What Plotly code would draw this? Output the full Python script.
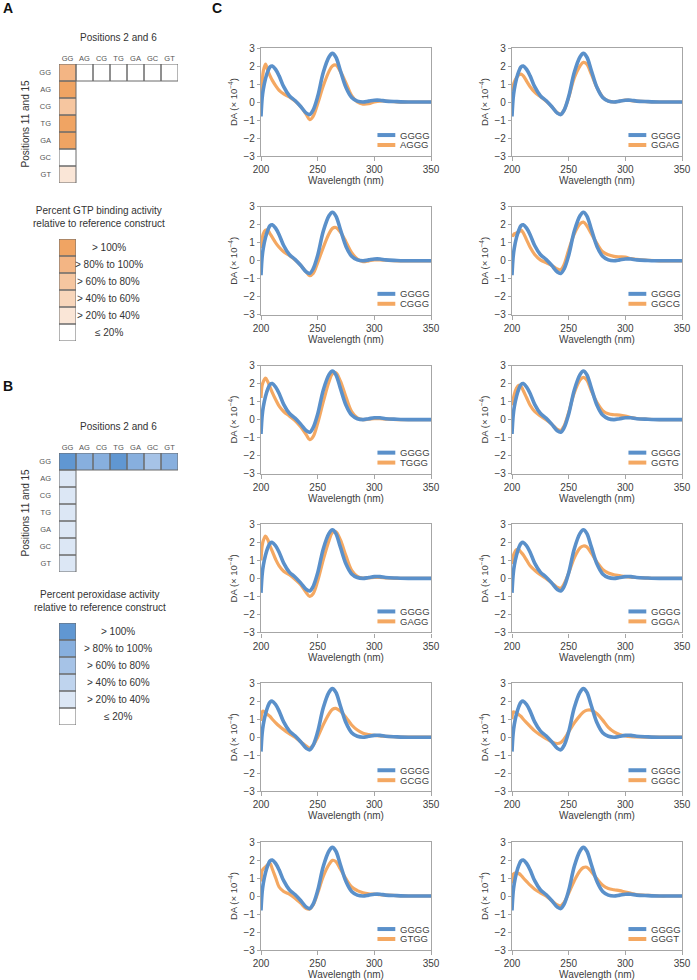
import plotly.graph_objects as go

W, H = 697, 980
def fx(p): return p / W
def fy(p): return 1 - p / H

FONT = "Arial, Liberation Sans, sans-serif"

# ---------------- Data ----------------
codes = ["GG", "AG", "CG", "TG", "GA", "GC", "GT"]
# activity category levels: 0 (<=20%) ... 5 (>100%)
gtp_row_gg = [4, 0, 0, 0, 0, 0, 0]      # positions 11/15 = GG, varying positions 2/6
gtp_col_gg = [4, 5, 3, 5, 5, 0, 1]      # positions 2/6 = GG, varying positions 11/15
pox_row_gg = [5, 4, 4, 5, 4, 3, 4]
pox_col_gg = [5, 1, 1, 1, 1, 1, 1]
legend_labels = ["> 100%", "> 80% to 100%", "> 60% to 80%", "> 40% to 60%", "> 20% to 40%", "≤ 20%"]
legend_levels = [5, 4, 3, 2, 1, 0]
orange_levels = ["#FFFFFF", "#FAE6D7", "#F8D6BB", "#F6C6A0", "#F3B584", "#F0A463"]
blue_levels = ["#FFFFFF", "#DCE7F5", "#BFD4EE", "#A6C3E7", "#87AFDE", "#6097D2"]

wl = [200, 201, 202, 204, 206, 208, 210, 213, 216, 220, 225, 230, 235, 240, 243, 246, 250,
      255, 260, 263, 266, 270, 275, 280, 285, 290, 295, 300, 305, 310, 320, 330, 340, 350]

GGGG = [-0.8, 0.2, 0.7, 1.3, 1.7, 1.95, 2.0, 1.8, 1.45, 0.85, 0.35, 0.08, -0.25, -0.62, -0.7, -0.45, 0.3,
        1.65, 2.5, 2.7, 2.5, 1.75, 0.8, 0.25, 0.05, 0.0, 0.05, 0.1, 0.1, 0.05, 0.02, 0.0, 0.0, 0.0]
AGGG = [0.4, 1.0, 1.7, 2.1, 1.75, 1.45, 1.2, 0.9, 0.65, 0.45, 0.28, 0.05, -0.25, -0.7, -0.98, -0.8, -0.1,
        0.9, 1.7, 2.0, 2.05, 1.7, 1.05, 0.35, 0.0, -0.12, -0.1, 0.0, 0.05, 0.05, 0.0, 0.0, 0.0, 0.0]
GGAG = [0.6, 0.9, 1.1, 1.35, 1.5, 1.55, 1.45, 1.15, 0.85, 0.55, 0.3, 0.05, -0.25, -0.6, -0.68, -0.45, 0.25,
        1.35, 2.0, 2.2, 2.1, 1.55, 0.8, 0.28, 0.05, 0.0, 0.05, 0.1, 0.08, 0.05, 0.02, 0.0, 0.0, 0.0]
CGGG = [0.7, 1.2, 1.5, 1.7, 1.7, 1.5, 1.3, 1.0, 0.75, 0.5, 0.3, 0.05, -0.25, -0.62, -0.82, -0.7, -0.1,
        0.75, 1.5, 1.8, 1.85, 1.6, 1.05, 0.45, 0.1, -0.05, 0.0, 0.05, 0.05, 0.03, 0.0, 0.0, 0.0, 0.0]
GGCG = [1.5, 1.4, 1.5, 1.55, 1.6, 1.7, 1.55, 1.15, 0.75, 0.35, 0.05, -0.1, -0.25, -0.45, -0.5, -0.2, 0.6,
        1.5, 2.05, 2.15, 1.95, 1.5, 0.95, 0.5, 0.33, 0.25, 0.22, 0.2, 0.12, 0.08, 0.03, 0.0, 0.0, 0.0]
TGGG = [1.2, 1.9, 2.1, 2.3, 2.1, 1.8, 1.5, 1.1, 0.75, 0.45, 0.2, -0.05, -0.4, -0.85, -1.12, -0.95, -0.2,
        1.0, 2.1, 2.55, 2.6, 2.15, 1.25, 0.45, 0.1, 0.0, 0.02, 0.05, 0.05, 0.03, 0.0, 0.0, 0.0, 0.0]
GGTG = [0.8, 1.1, 1.4, 1.75, 1.9, 1.85, 1.6, 1.2, 0.8, 0.45, 0.2, 0.0, -0.25, -0.55, -0.6, -0.35, 0.4,
        1.5, 2.2, 2.35, 2.2, 1.6, 0.95, 0.5, 0.32, 0.27, 0.25, 0.2, 0.12, 0.06, 0.02, 0.0, 0.0, 0.0]
GAGG = [1.0, 1.8, 2.1, 2.35, 2.15, 1.8, 1.5, 1.05, 0.7, 0.4, 0.2, -0.05, -0.35, -0.8, -1.0, -0.85, -0.15,
        1.05, 2.1, 2.55, 2.6, 2.15, 1.25, 0.45, 0.12, 0.02, 0.03, 0.05, 0.05, 0.03, 0.0, 0.0, 0.0, 0.0]
GGGA = [0.8, 1.2, 1.4, 1.6, 1.6, 1.45, 1.3, 1.0, 0.7, 0.45, 0.2, 0.0, -0.25, -0.5, -0.55, -0.3, 0.3,
        1.15, 1.7, 1.8, 1.75, 1.4, 0.9, 0.5, 0.3, 0.2, 0.15, 0.1, 0.07, 0.05, 0.02, 0.0, 0.0, 0.0]
GCGG = [0.9, 1.4, 1.45, 1.35, 1.25, 1.15, 1.0, 0.8, 0.62, 0.42, 0.2, 0.0, -0.25, -0.5, -0.6, -0.45, 0.0,
        0.7, 1.3, 1.55, 1.6, 1.45, 1.1, 0.68, 0.4, 0.22, 0.15, 0.1, 0.07, 0.05, 0.02, 0.0, 0.0, 0.0]
GGGC = [1.0, 1.4, 1.4, 1.35, 1.25, 1.15, 1.0, 0.8, 0.6, 0.35, 0.12, -0.08, -0.25, -0.35, -0.3, -0.1, 0.3,
        0.8, 1.2, 1.4, 1.5, 1.5, 1.3, 0.95, 0.55, 0.3, 0.15, 0.07, 0.03, 0.02, 0.0, 0.0, 0.0, 0.0]
GTGG = [0.8, 1.4, 1.5, 1.62, 1.75, 1.8, 1.5, 1.0, 0.5, 0.25, 0.1, -0.12, -0.4, -0.7, -0.72, -0.5, 0.15,
        1.1, 1.75, 1.98, 1.92, 1.5, 0.95, 0.5, 0.3, 0.18, 0.12, 0.1, 0.07, 0.05, 0.02, 0.0, 0.0, 0.0]
GGGT = [0.7, 1.2, 1.25, 1.3, 1.25, 1.15, 1.0, 0.8, 0.6, 0.38, 0.18, 0.0, -0.25, -0.5, -0.55, -0.35, 0.15,
        0.85, 1.4, 1.58, 1.6, 1.35, 0.95, 0.6, 0.42, 0.35, 0.3, 0.22, 0.15, 0.08, 0.03, 0.0, 0.0, 0.0]

variant_names = ["AGGG", "GGAG", "CGGG", "GGCG", "TGGG", "GGTG",
                 "GAGG", "GGGA", "GCGG", "GGGC", "GTGG", "GGGT"]
variant_values = [AGGG, GGAG, CGGG, GGCG, TGGG, GGTG, GAGG, GGGA, GCGG, GGGC, GTGG, GGGT]
ref_name = "GGGG"

x_ticks = [200, 250, 300, 350]
y_ticks = [-3, -2, -1, 0, 1, 2, 3]

BLUE = "#5A90CA"
ORANGE = "#F4A862"
AXC = "#A6A6A6"
TXT = "#404040"

def ax_ids(k):
    s = "" if k == 1 else str(k)
    return f"x{s}", f"y{s}", f"xaxis{s}", f"yaxis{s}"

fig = go.Figure()
layout = dict(width=W, height=H, margin=dict(l=0, r=0, t=0, b=0, autoexpand=False),
              paper_bgcolor="white", plot_bgcolor="white", showlegend=False,
              font=dict(family=FONT, color=TXT))
shapes, annotations = [], []

# ---------------- Panel C ----------------
col_x = [(261, 431), (512, 682)]
row_top = [48, 206.8, 365.6, 524.4, 683.2, 842]
ph = 108
for i, (name, vals) in enumerate(zip(variant_names, variant_values)):
    k = i + 1
    r, c = divmod(i, 2)
    xa, ya, xk, yk = ax_ids(k)
    fig.add_trace(go.Scatter(x=wl, y=vals, mode="lines", line=dict(color=ORANGE, width=3.2, shape="spline"),
                             xaxis=xa, yaxis=ya, hoverinfo="skip"))
    fig.add_trace(go.Scatter(x=wl, y=GGGG, mode="lines", line=dict(color=BLUE, width=3.6, shape="spline"),
                             xaxis=xa, yaxis=ya, hoverinfo="skip"))
    x0, x1 = col_x[c]
    t = row_top[r]
    layout[xk] = dict(domain=[fx(x0), fx(x1)], anchor=ya, range=[200, 350], tickvals=x_ticks,
                      showline=True, mirror=True, linecolor=AXC, linewidth=1.3,
                      ticks="outside", ticklen=4, tickcolor=AXC, showgrid=False, zeroline=False,
                      tickfont=dict(size=10, color=TXT),
                      title=dict(text="Wavelength (nm)", font=dict(size=10, color=TXT), standoff=2))
    layout[yk] = dict(domain=[fy(t + ph), fy(t)], anchor=xa, range=[-3, 3], tickvals=y_ticks,
                      showline=True, mirror=True, linecolor=AXC, linewidth=1.3,
                      ticks="outside", ticklen=3, tickcolor=AXC, showgrid=False, zeroline=False,
                      tickfont=dict(size=10, color=TXT),
                      title=dict(text="DA (× 10<sup>−4</sup>)", font=dict(size=9.5, color=TXT), standoff=4))
    # legend (key lines + labels)
    for j, (lab, colr) in enumerate([(ref_name, BLUE), (name, ORANGE)]):
        yy = 0.194 - j * 0.092
        shapes.append(dict(type="line", xref=f"{xa} domain", yref=f"{ya} domain",
                           x0=0.685, x1=0.79, y0=yy, y1=yy, line=dict(color=colr, width=4)))
        annotations.append(dict(text=lab, xref=f"{xa} domain", yref=f"{ya} domain", x=0.805, y=yy,
                                xanchor="left", yanchor="middle", showarrow=False,
                                font=dict(size=9.5, color=TXT)))

# ---------------- Panels A & B ----------------
def disc_scale(cols):
    n = len(cols)
    sc = []
    for q, cc in enumerate(cols):
        sc.append([q / n, cc])
        sc.append([(q + 1) / n, cc])
    return sc

def grid_panel(kgrid, kleg, top, row_gg, col_gg, cols, title_lines, leg_top, label_cx, title_cx):
    z = [[None] * 7 for _ in range(7)]
    for cc in range(7):
        z[0][cc] = row_gg[cc]
    for rr in range(7):
        z[rr][0] = col_gg[rr]
    xa, ya, xk, yk = ax_ids(kgrid)
    fig.add_trace(go.Heatmap(z=z, x=codes, y=codes, colorscale=disc_scale(cols), zmin=-0.5, zmax=5.5,
                             showscale=False, hoverinfo="skip", xaxis=xa, yaxis=ya))
    for rr in range(7):
        for cc in range(7):
            if z[rr][cc] is not None:
                shapes.append(dict(type="rect", xref=xa, yref=ya, x0=cc - 0.5, x1=cc + 0.5,
                                   y0=rr - 0.5, y1=rr + 0.5, line=dict(color="#6B6B6B", width=1)))
    gb = top + 7 * 17
    layout[xk] = dict(domain=[fx(59), fx(178)], anchor=ya, side="top", type="category",
                      range=[-0.5, 6.5], showgrid=False, zeroline=False, showline=False,
                      ticks="", ticklabelstandoff=1, tickfont=dict(size=7.5, color="#555555"))
    layout[yk] = dict(domain=[fy(gb), fy(top)], anchor=xa, type="category",
                      range=[6.5, -0.5], showgrid=False, zeroline=False, showline=False,
                      ticks="", ticklabelstandoff=7, tickfont=dict(size=7.5, color="#555555"))
    annotations.append(dict(text="Positions 2 and 6", xref="paper", yref="paper", x=fx(118), y=fy(top - 27),
                            xanchor="center", yanchor="middle",
                            showarrow=False, font=dict(size=10, color="#333333")))
    annotations.append(dict(text="Positions 11 and 15", xref="paper", yref="paper", x=fx(25),
                            y=fy((top + gb) / 2), textangle=-90, showarrow=False,
                            xanchor="center", yanchor="middle",
                            font=dict(size=10, color="#333333")))
    # legend
    xl, yl, xlk, ylk = ax_ids(kleg)
    fig.add_trace(go.Heatmap(z=[[v] for v in legend_levels], x=["k"], y=legend_labels,
                             colorscale=disc_scale(cols), zmin=-0.5, zmax=5.5, showscale=False,
                             hoverinfo="skip", xaxis=xl, yaxis=yl))
    for rr in range(6):
        shapes.append(dict(type="rect", xref=xl, yref=yl, x0=-0.5, x1=0.5, y0=rr - 0.5, y1=rr + 0.5,
                           line=dict(color="#6B6B6B", width=1)))
    lb = leg_top + 6 * 17
    layout[xlk] = dict(domain=[fx(59), fx(76)], anchor=yl, range=[-0.5, 0.5], visible=False)
    layout[ylk] = dict(domain=[fy(lb), fy(leg_top)], anchor=xl, type="category",
                       range=[5.5, -0.5], visible=False)
    for lab in legend_labels:
        annotations.append(dict(text=lab, xref="paper", yref=yl, x=fx(label_cx), y=lab, showarrow=False,
                                xanchor="center", yanchor="middle", font=dict(size=10, color="#333333")))
    annotations.append(dict(text="<br>".join(title_lines), xref="paper", yref="paper", x=fx(title_cx),
                            y=fy(leg_top - 22), showarrow=False, align="center",
                            xanchor="center", yanchor="middle",
                            font=dict(size=10, color="#333333")))

grid_panel(13, 14, 64, gtp_row_gg, gtp_col_gg, orange_levels,
           ["Percent GTP binding activity", "relative to reference construct"], 239, 109, 99)
grid_panel(15, 16, 453, pox_row_gg, pox_col_gg, blue_levels,
           ["Percent peroxidase activity", "relative to reference construct"], 623, 118, 100)

for lab, px_, py_ in [("A", 8, 8), ("B", 8, 386), ("C", 217, 8)]:
    annotations.append(dict(text=f"<b>{lab}</b>", xref="paper", yref="paper", x=fx(px_), y=fy(py_),
                            xanchor="center", yanchor="middle",
                            showarrow=False, font=dict(size=14, color="#111111")))

layout["shapes"] = shapes
layout["annotations"] = annotations
fig.update_layout(**layout)
fig.write_html("out.html", config={"displayModeBar": False},
               post_script="document.body.style.margin='0';document.body.style.padding='0';"
                           "document.body.style.overflow='hidden';")
